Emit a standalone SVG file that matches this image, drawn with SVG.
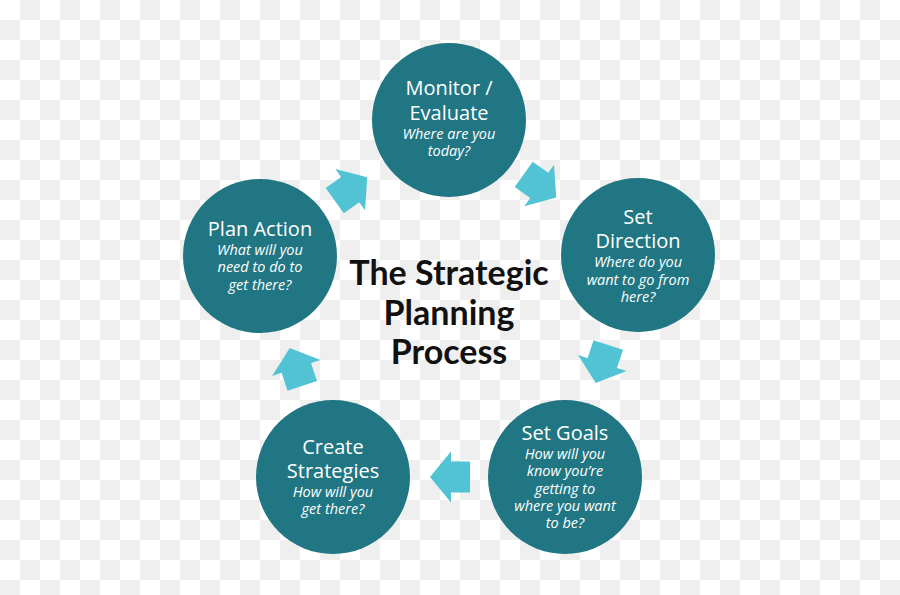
<svg xmlns="http://www.w3.org/2000/svg" width="900" height="595" viewBox="0 0 900 595">
<defs>
<pattern id="checker" x="0" y="0" width="40" height="40" patternUnits="userSpaceOnUse">
<rect width="40" height="40" fill="#ffffff"/>
<rect x="20" y="0" width="20" height="20" fill="#efefef"/>
<rect x="0" y="20" width="20" height="20" fill="#efefef"/>
</pattern>
<polygon id="arrow" points="-20,-15.5 -1,-15.5 -1,-25.5 20,0 -1,25.5 -1,15.5 -20,15.5"/>
</defs>
<style>
.node{fill:#217683;}
.arr{fill:#52c3d4;}
.h{font-family:"Open Sans","Liberation Sans",sans-serif;font-size:20px;fill:#ffffff;text-anchor:middle;}
.s{font-family:"Open Sans","Liberation Sans",sans-serif;font-size:14.5px;font-style:italic;fill:#ffffff;text-anchor:middle;}
.t{font-family:Lato,"Liberation Sans",sans-serif;font-size:34px;font-weight:bold;fill:#111111;text-anchor:middle;}
</style>
<rect width="900" height="595" fill="url(#checker)"/>
<g id="connectors">
<use href="#arrow" class="arr" transform="translate(540,186) rotate(35.5)"/>
<use href="#arrow" class="arr" transform="translate(602,364) rotate(108.2)"/>
<use href="#arrow" class="arr" transform="translate(450,477) rotate(180)"/>
<use href="#arrow" class="arr" transform="translate(296,367) rotate(251.7)"/>
<use href="#arrow" class="arr" transform="translate(351,189) rotate(324.3)"/>
</g>
<g id="monitor">
<circle class="node" cx="449" cy="120" r="77"/>
<text class="h" x="449" y="95">Monitor /</text>
<text class="h" x="449" y="120">Evaluate</text>
<text class="s" x="449" y="139">Where are you</text>
<text class="s" x="449" y="156">today?</text>
</g>
<g id="direction">
<circle class="node" cx="638" cy="255" r="77"/>
<text class="h" x="638" y="224">Set</text>
<text class="h" x="638" y="248">Direction</text>
<text class="s" x="638" y="267">Where do you</text>
<text class="s" x="638" y="285">want to go from</text>
<text class="s" x="638" y="302">here?</text>
</g>
<g id="goals">
<circle class="node" cx="565" cy="477" r="77"/>
<text class="h" x="565" y="440">Set Goals</text>
<text class="s" x="565" y="459">How will you</text>
<text class="s" x="565" y="476">know you’re</text>
<text class="s" x="565" y="494">getting to</text>
<text class="s" x="565" y="511">where you want</text>
<text class="s" x="565" y="528">to be?</text>
</g>
<g id="strategies">
<circle class="node" cx="333" cy="477" r="77"/>
<text class="h" x="333" y="454">Create</text>
<text class="h" x="333" y="478">Strategies</text>
<text class="s" x="333" y="497">How will you</text>
<text class="s" x="333" y="514">get there?</text>
</g>
<g id="plan">
<circle class="node" cx="260" cy="256" r="77"/>
<text class="h" x="260" y="236">Plan Action</text>
<text class="s" x="260" y="255">What will you</text>
<text class="s" x="260" y="272">need to do to</text>
<text class="s" x="260" y="290">get there?</text>
</g>
<g id="title">
<text class="t" x="449" y="285">The Strategic</text>
<text class="t" x="449" y="325">Planning</text>
<text class="t" x="449" y="364">Process</text>
</g>
</svg>
